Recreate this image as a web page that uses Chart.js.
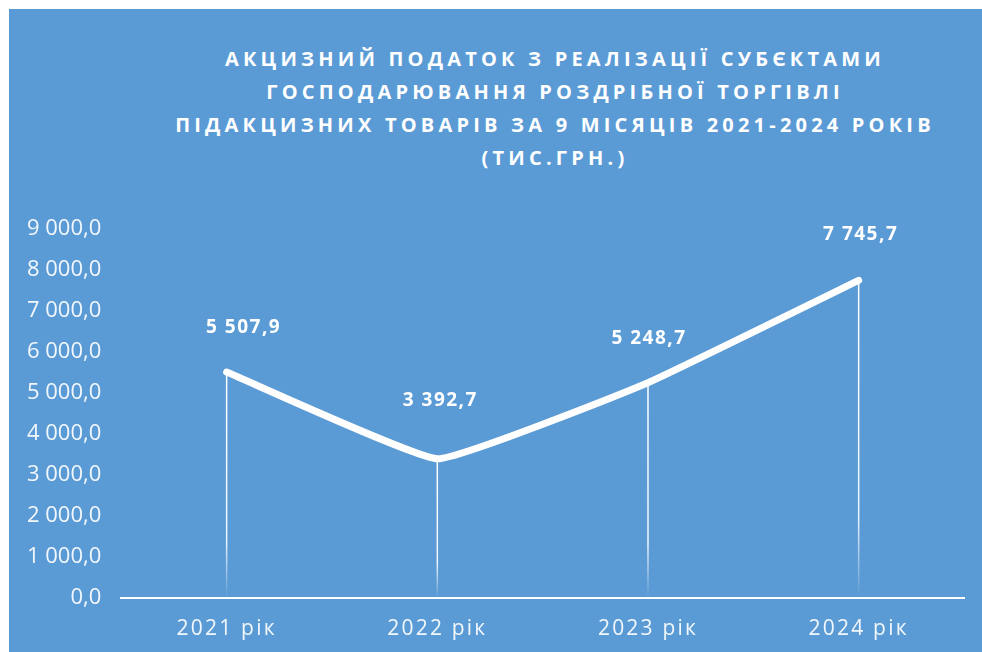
<!DOCTYPE html>
<html>
<head>
<meta charset="utf-8">
<script src="https://cdn.jsdelivr.net/npm/chart.js@4"></script>
<style>
  html, body { margin: 0; padding: 0; background: #fff; overflow: hidden; }
  #panel {
    position: absolute; left: 9px; top: 9px; width: 973px; height: 643px;
    background: #5b9bd5;
  }
  #title {
    position: absolute; left: 9px; top: 42px; width: 1092px;
    text-align: center; color: #fff;
    font: bold 20px "Open Sans", sans-serif; line-height: 33px;
    letter-spacing: 4.2px;
  }
  #wrap { position: absolute; left: 0; top: 0; width: 982px; height: 660px; }
</style>
</head>
<body>
<div id="panel"></div>
<div id="title">
  АКЦИЗНИЙ ПОДАТОК З РЕАЛІЗАЦІЇ СУБЄКТАМИ<br>
  ГОСПОДАРЮВАННЯ РОЗДРІБНОЇ ТОРГІВЛІ<br>
  ПІДАКЦИЗНИХ ТОВАРІВ ЗА 9 МІСЯЦІВ 2021-2024 РОКІВ<br>
  (ТИС.ГРН.)
</div>
<div id="wrap"><canvas id="myChart"></canvas></div>
<script>
    // data
    const years = ['2021 рік', '2022 рік', '2023 рік', '2024 рік'];
    const values = [5507.9, 3392.7, 5248.7, 7745.7];
    const yMin = 0, yMax = 9000, yStep = 1000;

    // "9 000,0" style numbers
    function fmt(v) {
      const parts = Number(v).toFixed(1).split('.');
      return parts[0].replace(/\B(?=(\d{3})+(?!\d))/g, ' ') + ',' + parts[1];
    }

    // thin white drop lines from each point to the axis, fading at the bottom
    const dropLines = {
      id: 'dropLines',
      beforeDatasetsDraw(chart) {
        const ctx = chart.ctx;
        const bottom = chart.chartArea.bottom;
        chart.getDatasetMeta(0).data.forEach(pt => {
          const g = ctx.createLinearGradient(0, pt.y, 0, bottom);
          g.addColorStop(0, 'rgba(255,255,255,1)');
          g.addColorStop(0.75, 'rgba(255,255,255,0.9)');
          g.addColorStop(1, 'rgba(255,255,255,0)');
          ctx.save();
          ctx.strokeStyle = g;
          ctx.lineWidth = 1.5;
          ctx.beginPath();
          ctx.moveTo(pt.x, pt.y);
          ctx.lineTo(pt.x, bottom);
          ctx.stroke();
          ctx.restore();
        });
      }
    };

    // value labels above the points
    const valueLabels = {
      id: 'valueLabels',
      afterDatasetsDraw(chart, args, opts) {
        const ctx = chart.ctx;
        const ds = chart.data.datasets[0];
        chart.getDatasetMeta(0).data.forEach((pt, i) => {
          const sh = opts.shift[i] || [0, -46];
          ctx.save();
          ctx.letterSpacing = '1.5px';
          ctx.font = 'bold 19px "Open Sans"';
          ctx.fillStyle = '#fff';
          ctx.textAlign = 'center';
          ctx.textBaseline = 'middle';
          ctx.fillText(fmt(ds.data[i]), pt.x + sh[0], pt.y + sh[1]);
          ctx.restore();
        });
      }
    };

    // spaced-out x labels
    const spacedX = {
      id: 'spacedX',
      afterLayout(chart) {
        const sc = chart.scales.x;
        if (sc._spaced) return;
        const orig = sc.drawLabels;
        sc.drawLabels = function(area) {
          this.ctx.save();
          this.ctx.letterSpacing = '2.2px';
          orig.call(this, area);
          this.ctx.restore();
        };
        sc._spaced = true;
      }
    };

    const data = {
      labels: years,
      datasets: [{
        label: 'Акцизний податок',
        data: values,
        borderColor: '#ffffff',
        borderWidth: 7,
        borderCapStyle: 'round',
        borderJoinStyle: 'round',
        tension: 0.1,
        pointRadius: 0,
        fill: false
      }]
    };

    const config = {
      type: 'line',
      data,
      options: {
        responsive: false,
        animation: false,
        layout: { padding: { top: 229, left: 15, right: 18, bottom: 7 } },
        plugins: {
          legend: { display: false },
          tooltip: { enabled: false },
          valueLabels: { shift: [[17, -45], [3, -58], [1, -44], [2, -46]] }
        },
        scales: {
          x: {
            offset: true,
            grid: { display: false },
            border: { display: true, color: '#ffffff', width: 2 },
            ticks: {
              color: 'rgba(255,255,255,0.92)',
              font: { family: '"Open Sans"', size: 21 },
              padding: 11
            }
          },
          y: {
            min: yMin,
            max: yMax,
            grid: { display: false },
            border: { display: false },
            ticks: {
              stepSize: yStep,
              color: 'rgba(255,255,255,0.92)',
              font: { family: '"Open Sans"', size: 22 },
              padding: 12,
              callback: v => fmt(v)
            }
          }
        }
      },
      plugins: [dropLines, valueLabels, spacedX]
    };

    const cv = document.getElementById('myChart');
    cv.width = 982; cv.height = 660;
    const myChart = new Chart(cv, config);
</script>
</body>
</html>
